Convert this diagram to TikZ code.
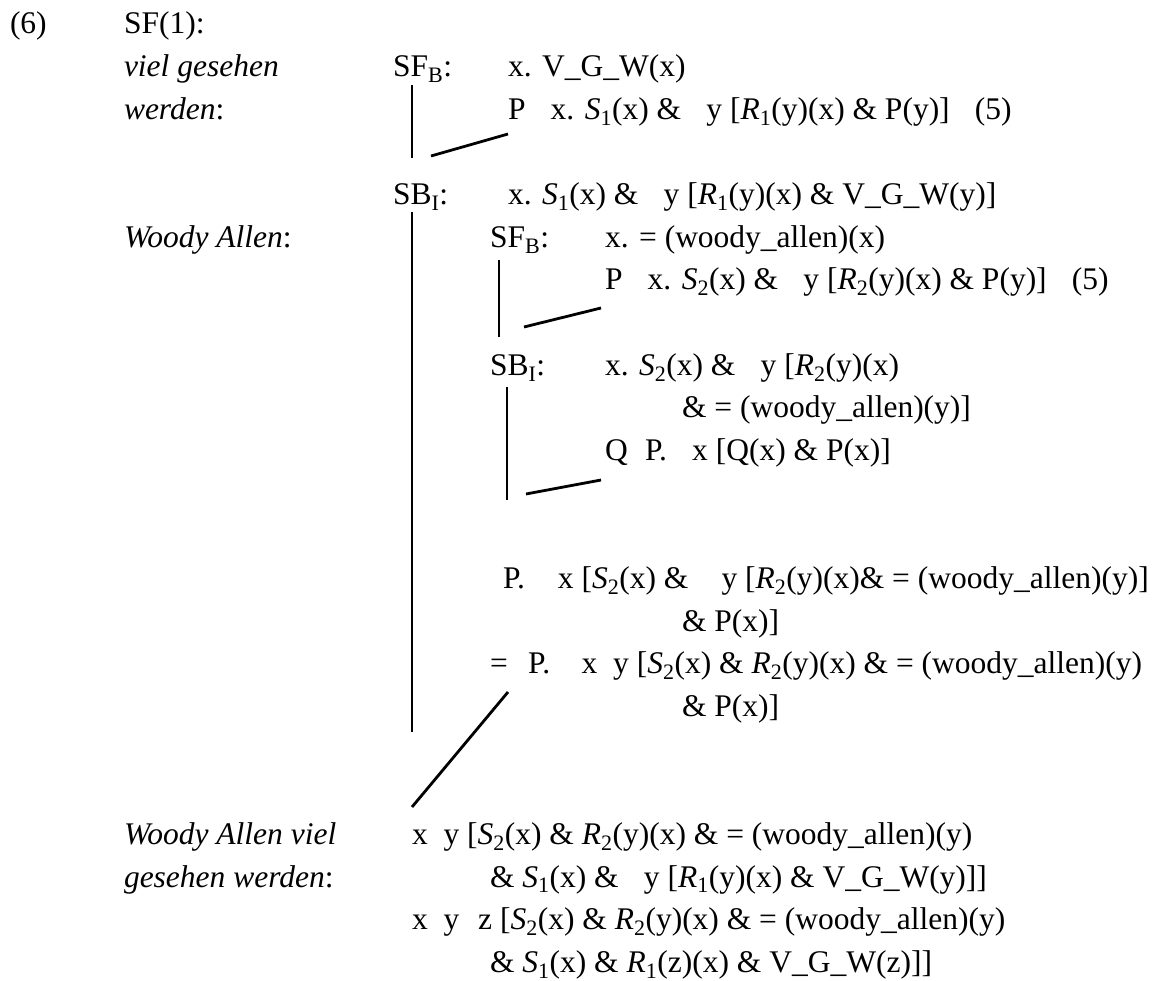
\documentclass[tikz,border=0pt]{standalone}
\usepackage{fontspec}
\setmainfont{Liberation Serif}
\newcommand\gp{\hspace{0.55em}}
\newcommand\Sx[2]{\textit{#1}\textsubscript{#2}}
\tikzset{
  txt/.style={anchor=base west, inner sep=0pt, outer sep=0pt, font=\fontsize{31.5}{37}\selectfont},
  ln/.style={line width=2.8pt}
}
\begin{document}
\begin{tikzpicture}[x=1pt,y=-1pt]
\useasboundingbox (0,0) rectangle (1169,981);
% row 1
\node[txt] (n6) at (10,34) {(6)};
\node[txt] (sf1) at (124,34) {SF(1):};
% row 2-3
\node[txt] (lab2) at (124,76.65) {\textit{viel gesehen}};
\node[txt] (sfb1) at (393,76.65) {SF\textsubscript{B}:};
\node[txt] (e2) at (508,76.65) {x. V\_G\_W(x)};
\node[txt] (lab3) at (124,119.3) {\textit{werden}:};
\node[txt] (e3) at (508,119.3) {P \gp x. \Sx{S}{1}(x) \& \gp y [\Sx{R}{1}(y)(x) \& P(y)]\hspace{0.8em}(5)};
% row 5
\node[txt] (sbi1) at (393,204.6) {SB\textsubscript{I}:};
\node[txt] (e5) at (508,204.6) {x. \Sx{S}{1}(x) \& \gp y [\Sx{R}{1}(y)(x) \& V\_G\_W(y)]};
% row 6-7
\node[txt] (lab6) at (124,247.25) {\textit{Woody Allen}:};
\node[txt] (sfb2) at (490,247.25) {SF\textsubscript{B}:};
\node[txt] (e6) at (605,247.25) {x. = (woody\_allen)(x)};
\node[txt] (e7) at (605,289.9) {P \gp x. \Sx{S}{2}(x) \& \gp y [\Sx{R}{2}(y)(x) \& P(y)]\hspace{0.8em}(5)};
% row 9-11
\node[txt] (sbi2) at (490,375.2) {SB\textsubscript{I}:};
\node[txt] (e9) at (605,375.2) {x. \Sx{S}{2}(x) \& \gp y [\Sx{R}{2}(y)(x)};
\node[txt] (e10) at (682,417.85) {\& = (woody\_allen)(y)]};
\node[txt] (e11) at (605,460.5) {Q\gp P. \gp x [Q(x) \& P(x)]};
% row 14-17
\node[txt] (e14) at (503,588.45) {P.\hspace{1.05em}x [\Sx{S}{2}(x) \&\hspace{1.05em}y [\Sx{R}{2}(y)(x)\& = (woody\_allen)(y)]};
\node[txt] (e15) at (682,631.1) {\& P(x)]};
\node[txt] (e16) at (490,673.75) {=\hspace{0.65em}P.\hspace{1em}x\hspace{0.5em}y [\Sx{S}{2}(x) \& \Sx{R}{2}(y)(x) \& = (woody\_allen)(y)};
\node[txt] (e17) at (682,716.4) {\& P(x)]};
% row 20-23
\node[txt] (lab20) at (124,844.35) {\textit{Woody Allen viel}};
\node[txt] (lab21) at (124,887) {\textit{gesehen werden}:};
\node[txt] (e20) at (412,844.35) {x\hspace{0.5em}y [\Sx{S}{2}(x) \& \Sx{R}{2}(y)(x) \& = (woody\_allen)(y)};
\node[txt] (e21) at (490,887) {\& \Sx{S}{1}(x) \& \gp y [\Sx{R}{1}(y)(x) \& V\_G\_W(y)]]};
\node[txt] (e22) at (412,929.65) {x\hspace{0.5em}y\hspace{0.6em}z [\Sx{S}{2}(x) \& \Sx{R}{2}(y)(x) \& = (woody\_allen)(y)};
\node[txt] (e23) at (490,972.3) {\& \Sx{S}{1}(x) \& \Sx{R}{1}(z)(x) \& V\_G\_W(z)]]};
% connector coordinates
\coordinate (a1) at (412,85);
\coordinate (a2) at (412,158);
\coordinate (s1a) at (431,156);
\coordinate (s1b) at (508,134);
\coordinate (b1) at (412,212);
\coordinate (b2) at (412,732);
\coordinate (c1) at (499,260);
\coordinate (c2) at (499,337);
\coordinate (s2a) at (524,327);
\coordinate (s2b) at (601,308);
\coordinate (d1) at (507,387);
\coordinate (d2) at (507,500);
\coordinate (s3a) at (526,494);
\coordinate (s3b) at (601,480);
\coordinate (s4a) at (508,692);
\coordinate (s4b) at (412,807);
\draw[ln] (a1) -- (a2);
\draw[ln] (s1a) -- (s1b);
\draw[ln] (b1) -- (b2);
\draw[ln] (c1) -- (c2);
\draw[ln] (s2a) -- (s2b);
\draw[ln] (d1) -- (d2);
\draw[ln] (s3a) -- (s3b);
\draw[ln] (s4a) -- (s4b);
\end{tikzpicture}
\end{document}
